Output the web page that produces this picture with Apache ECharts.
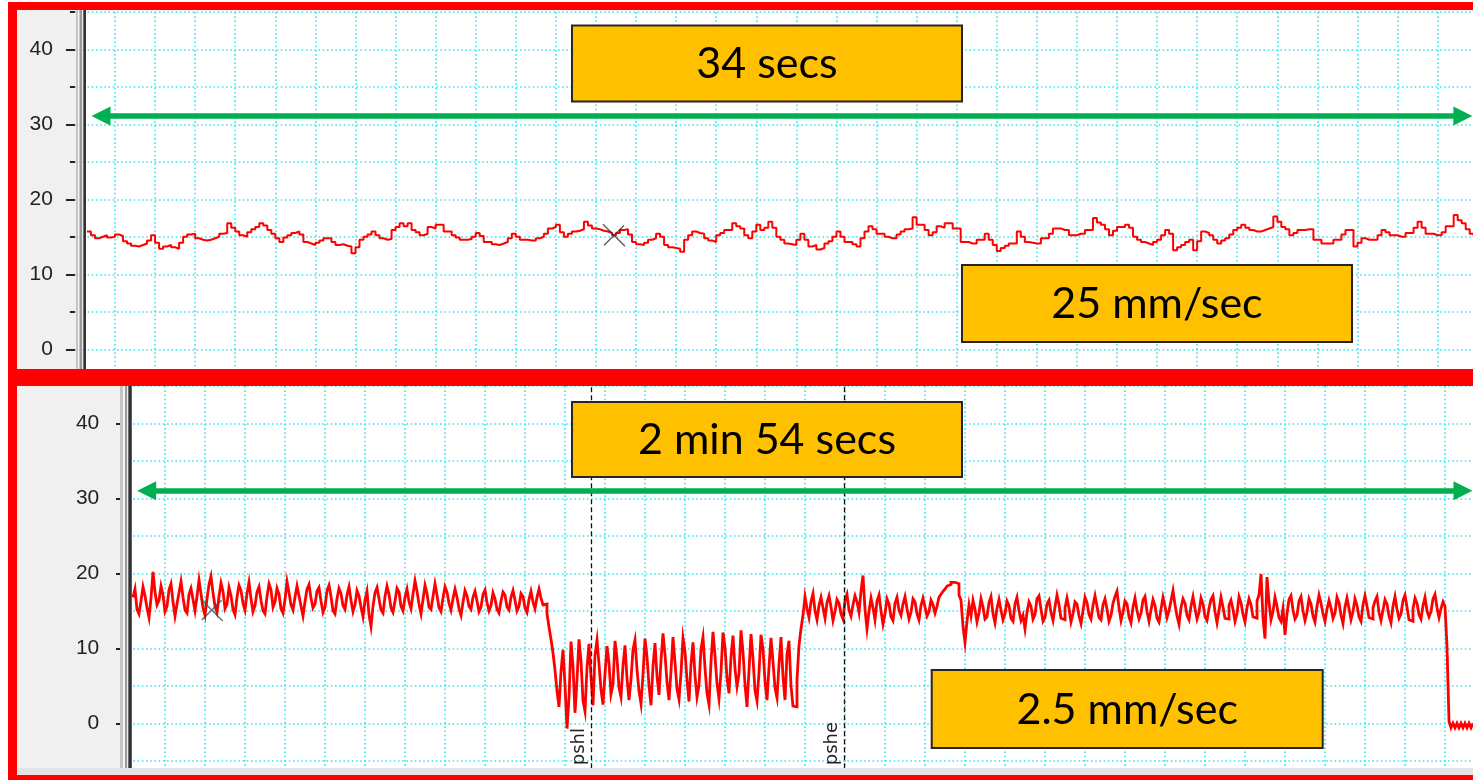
<!DOCTYPE html>
<html>
<head>
<meta charset="utf-8">
<title>Pressure trace at two recording speeds</title>
<script src="https://cdn.jsdelivr.net/npm/echarts@6/dist/echarts.min.js"></script>
<style>
  html, body { margin: 0; padding: 0; background: #fff; }
  #wrap { position: relative; width: 1473px; height: 780px; overflow: hidden; }
  .clip { position: absolute; left: 0; width: 1473px; overflow: hidden; }
  #upperClip { top: 0; height: 378px; }
  #lowerClip { top: 378px; height: 402px; }
  .canvas { position: absolute; left: 0; top: -40px; width: 1520px; }
  #upper { height: 480px; }
  #lower { height: 500px; }
</style>
</head>
<body>
<div id="wrap">
  <div class="clip" id="upperClip"><div class="canvas" id="upper"></div></div>
  <div class="clip" id="lowerClip"><div class="canvas" id="lower"></div></div>
</div>
<script>
// ---------------- data ----------------
// labelled pressure ticks on both panels
const yLabels = [0, 10, 20, 30, 40];

// fast recording (25 mm/sec): one sample every 0.1 s starting at 0.3 s
const fastStart = 0.3;
const fastStep = 0.1;
const fastTrace = [
  15.7,15.2,14.8,15.0,15.2,14.9,15.0,15.3,15.1,14.4,
  14.1,13.8,13.7,13.9,14.1,14.5,15.2,14.2,13.4,13.7,
  13.9,13.6,13.4,14.2,15.0,15.3,15.4,14.8,14.6,14.5,
  14.6,14.8,15.0,15.4,15.5,16.8,16.2,15.7,15.2,15.0,
  15.6,16.0,16.3,16.8,16.5,15.9,15.4,14.8,14.3,14.9,
  15.2,15.5,15.7,15.3,14.3,14.1,13.9,14.2,14.5,14.8,
  14.8,14.3,13.9,14.0,13.8,13.7,12.8,13.6,14.6,15.0,
  15.3,15.7,15.2,14.8,14.6,14.7,15.9,16.3,16.8,16.4,
  16.8,15.9,15.6,15.2,15.4,16.3,16.1,16.6,16.6,15.7,
  15.7,15.2,14.9,14.6,14.6,14.7,15.0,15.5,15.1,14.3,
  14.3,14.0,13.9,14.1,14.3,14.8,15.4,15.0,14.6,14.6,
  14.5,14.5,14.8,15.0,15.4,16.1,16.3,16.6,15.6,15.0,
  15.4,15.7,15.8,16.0,17.0,16.5,16.1,16.0,15.8,15.7,
  15.5,15.2,15.5,15.9,16.0,15.3,14.3,14.0,13.9,14.2,
  14.6,14.8,15.4,15.0,13.9,13.6,13.5,13.4,13.0,14.6,
  15.2,15.7,15.5,15.4,14.8,14.5,14.3,15.2,15.5,15.9,
  15.9,16.8,16.4,16.1,15.2,14.8,15.7,16.6,15.9,16.2,
  17.0,16.2,15.0,14.6,14.1,14.0,13.9,14.6,15.4,14.6,
  13.7,13.9,13.3,13.5,14.1,14.4,15.0,15.7,15.0,14.3,
  14.3,14.0,13.7,14.8,15.7,16.4,16.0,15.4,15.4,15.0,
  14.8,14.8,15.3,15.7,16.0,16.1,17.6,16.6,16.6,15.9,
  15.2,15.6,16.4,16.2,16.8,16.8,16.1,16.1,14.3,14.3,
  14.1,14.1,14.6,14.6,15.4,14.6,13.9,13.1,13.5,13.8,
  14.1,14.1,15.7,15.0,14.3,14.2,14.1,14.1,14.8,14.8,
  15.4,16.1,16.1,15.9,15.9,15.2,15.2,15.4,15.4,15.9,
  15.9,17.5,16.9,16.6,16.0,15.2,15.8,16.3,16.3,16.6,
  16.2,15.0,14.6,14.3,14.1,13.9,14.3,14.6,15.2,15.9,
  15.4,13.2,13.6,13.9,14.3,14.6,13.2,14.4,15.7,15.5,
  15.2,14.6,14.1,14.5,14.8,15.3,15.9,16.2,16.6,16.2,
  15.9,15.7,15.7,15.9,16.1,16.3,17.7,17.0,16.3,16.0,
  15.2,15.5,15.9,15.9,16.0,16.0,14.6,14.6,14.1,14.1,
  14.1,14.6,14.6,15.3,15.9,15.9,13.7,14.2,14.8,14.6,
  14.6,14.6,15.2,15.9,15.6,15.2,15.2,15.0,15.0,15.5,
  15.5,16.2,17.0,16.2,15.4,15.4,15.2,15.2,15.6,16.4,
  16.4,17.9,17.2,16.8,16.0,15.4,15.0
];

// slow recording (2.5 mm/sec): one sample every 0.25 s starting at 1 s
const slowStart = 1.0;
const slowStep = 0.25;
const slowTrace = [
  // resting pressure before the manoeuvre
  16.8,17.9,15.2,14.6,16.3,18.2,17.0,15.4,14.1,16.7,
  20.2,17.5,15.8,16.4,18.3,17.1,14.9,15.6,17.8,18.6,
  16.2,14.3,15.9,17.4,18.9,16.8,15.1,14.7,17.2,18.0,
  16.5,15.0,16.9,19.1,17.3,15.4,14.4,16.6,18.5,19.6,
  17.4,15.6,14.8,16.9,18.7,17.6,15.3,15.9,18.1,17.0,
  15.2,14.5,16.8,18.4,17.7,16.0,15.1,17.3,18.8,16.6,
  14.9,15.7,17.5,18.2,16.4,15.0,14.6,16.9,18.6,17.8,
  15.5,16.2,18.0,17.2,15.3,14.7,16.5,18.9,17.4,15.8,
  15.1,16.8,18.3,17.0,15.6,14.3,16.2,17.9,18.5,16.7,
  15.4,15.9,17.6,18.1,16.3,14.8,15.5,17.7,18.4,16.9,
  15.0,14.6,16.6,18.0,17.3,15.7,15.2,17.1,18.2,16.4,
  14.9,15.8,17.7,17.0,15.5,14.2,16.4,17.6,14.5,12.9,
  15.6,17.4,18.1,16.6,15.1,14.7,16.9,18.3,17.2,15.4,
  14.8,16.3,18.0,17.5,15.6,15.0,16.8,17.9,16.2,15.3,
  17.2,19.0,17.6,15.9,14.6,16.5,18.4,17.3,15.5,15.2,
  16.9,18.6,17.1,15.4,14.9,16.7,18.2,17.5,16.0,15.1,
  16.6,17.9,16.8,15.3,14.4,16.1,17.7,17.0,15.6,15.2,
  16.8,17.6,16.3,14.9,15.5,17.2,17.8,16.1,15.0,15.7,
  17.4,16.6,15.2,14.7,16.3,17.5,17.1,15.5,15.1,16.8,
  17.7,16.4,15.0,15.6,17.3,16.9,15.4,14.8,16.5,17.6,
  16.2,15.3,16.8,17.9,16.7,15.8,
  // drop at pressure hold
  15.9,14.6,12.8,11.2,9.4,7.1,
  // low, unstable phase
  4.3,2.2,6.9,9.8,5.1,-0.7,3.4,10.9,7.6,1.4,
  5.8,11.2,8.3,3.0,1.6,7.4,10.6,6.2,2.4,9.1,
  11.1,7.9,4.5,2.5,6.6,10.3,8.0,3.9,5.2,11.0,
  8.7,4.8,3.5,7.7,10.4,6.0,3.1,5.9,9.8,11.1,
  7.2,4.3,2.6,6.5,11.3,8.9,5.0,2.4,7.6,10.7,
  6.3,3.8,8.4,12.0,9.2,5.5,3.1,7.0,11.5,8.1,
  4.6,3.2,6.7,11.4,9.6,5.8,2.9,7.9,10.8,6.4,
  3.5,5.1,9.9,11.5,7.4,4.0,2.5,8.2,12.2,9.0,
  5.3,3.3,6.9,12.1,10.1,6.0,4.0,8.8,11.7,7.3,
  4.9,6.6,12.4,9.5,5.2,2.2,7.1,11.9,8.6,4.4,
  3.0,6.8,11.8,9.9,5.6,3.1,7.5,11.4,8.2,4.7,
  3.4,7.9,11.5,6.2,3.1,9.2,11.0,5.0,2.3,2.2,
  5.8,10.4,
  // recovery
  12.6,14.4,16.9,15.3,14.1,16.2,17.3,15.0,13.8,15.7,
  16.8,15.4,14.0,16.1,17.0,15.5,13.7,14.9,16.5,16.0,
  14.6,13.9,16.4,17.2,15.1,14.3,15.8,17.0,16.2,14.8,
  17.6,19.7,15.2,12.6,14.9,16.7,15.4,13.8,16.3,17.1,
  15.0,13.2,14.6,16.6,15.9,14.2,13.7,16.0,16.8,15.1,
  14.4,15.9,16.9,15.3,13.9,14.8,16.6,16.2,14.6,13.8,
  15.7,16.7,15.5,14.3,14.9,16.4,15.8,14.7,15.6,16.8,
  17.2,17.6,17.9,18.3,18.5,18.8,18.8,18.7,18.6,
  // steady phase
  17.1,16.4,12.9,10.8,13.6,15.8,14.3,16.4,15.2,13.5,
  14.7,16.6,15.5,13.9,14.2,16.1,16.9,14.6,13.4,15.3,
  16.5,15.1,13.8,14.6,16.3,15.7,14.0,13.6,15.9,16.8,
  15.0,13.7,14.4,12.6,14.8,16.2,15.6,13.9,14.5,16.6,
  17.0,15.2,13.6,14.1,15.9,16.4,14.8,13.7,15.5,17.1,
  15.8,14.0,13.8,15.4,16.7,15.3,13.5,14.6,16.2,15.9,
  14.3,13.3,15.0,16.8,16.1,14.5,13.9,15.7,17.0,15.6,
  14.1,13.8,15.8,16.6,15.2,13.6,14.4,16.0,16.9,17.6,
  15.4,13.7,14.8,16.3,15.9,14.2,13.4,15.5,16.7,15.0,
  13.9,14.7,16.4,16.9,14.9,13.6,15.1,16.5,15.7,14.0,
  13.5,15.2,16.8,15.6,14.1,15.0,16.3,17.7,15.8,14.3,
  13.2,15.4,16.6,16.0,14.4,13.8,15.6,16.9,15.3,13.9,
  14.8,16.7,15.9,14.2,13.7,15.3,16.5,17.0,14.9,13.4,
  15.0,16.8,15.5,14.0,13.9,15.7,16.4,15.2,13.6,14.6,
  16.9,16.1,14.5,13.5,15.4,16.6,15.8,14.2,14.0,16.3,
  17.1,19.9,14.0,11.3,19.5,16.2,13.8,14.9,16.8,15.6,
  14.1,13.6,15.3,11.8,14.6,16.5,17.0,15.1,13.9,14.4,
  16.3,16.9,15.0,13.7,14.8,16.6,15.9,14.3,13.5,15.6,
  17.1,16.0,14.6,13.6,15.2,16.4,15.4,14.0,14.7,16.8,
  16.1,14.4,13.3,15.5,16.7,15.3,13.8,14.9,16.6,15.7,
  14.2,13.6,15.8,17.0,15.6,14.1,13.9,15.4,16.3,16.9,
  14.8,13.7,15.1,16.5,15.9,14.3,13.4,15.6,16.9,15.2,
  14.0,14.6,16.4,17.1,15.5,13.8,13.6,15.3,16.7,16.0,
  14.5,13.9,15.7,16.8,15.0,14.2,14.9,16.6,17.2,15.4,
  14.1,15.3,16.2,15.6,
  // release
  10.2,0.3,-0.6,0.0,-0.6,0.0,-0.6,0.0,-0.6,0.0,
  -0.6,0.0,-0.6,0.0
];

// event markers on the slow recording (seconds)
const slowEvents = [
  { name: 'pshl', t: 58.25 },
  { name: 'pshe', t: 89.9 }
];

// cursor crosses [seconds, value]
const fastCursor = [13.45, 15.2];
const slowCursor = [10.84, 15.1];

// duration arrows [from s, to s, level]
const fastSpan = [0.65, 34.63, 31.1];
const slowSpan = [2.71, 167.25, 31.0];

// ---------------- styling helpers ----------------
const RED = '#ff0000';
const GRID_CYAN = '#38e4ee';
const ARROW_GREEN = '#00b050';
const BOX_FILL = '#ffc000';
const SHIFT = 40; // each chart canvas sits 40px above its clipping panel
const dotted = { color: GRID_CYAN, width: 1.6, type: [1.6, 2.6] };

function toXY(start, step, values) {
  return values.map((v, i) => [+(start + i * step).toFixed(3), v]);
}

function valueAxis(offset) {
  return {
    type: 'value', min: -10, max: 50, interval: 10, offset: offset,
    axisLine: { show: false },
    axisTick: { show: true, length: 9, lineStyle: { color: '#222', width: 2 } },
    minorTick: { show: true, splitNumber: 2, length: 5, lineStyle: { color: '#222', width: 2 } },
    axisLabel: {
      margin: 19, fontSize: 21, fontFamily: 'Liberation Sans', color: '#222',
      formatter: v => (yLabels.indexOf(v) >= 0 ? String(v) : '')
    },
    splitLine: { show: true, lineStyle: dotted },
    minorSplitLine: { show: true, lineStyle: dotted }
  };
}

function timeAxis(max, interval) {
  return {
    type: 'value', min: 0, max: max, interval: interval,
    axisLine: { show: false }, axisTick: { show: false }, axisLabel: { show: false },
    splitLine: { show: true, showMinLine: false, showMaxLine: false, lineStyle: dotted }
  };
}

function spanArrow(span) {
  return {
    type: 'line', data: [], silent: true,
    markLine: {
      silent: true, animation: false,
      symbol: ['triangle', 'triangle'], symbolSize: 19,
      label: { show: false },
      lineStyle: { color: ARROW_GREEN, width: 5.5, type: 'solid' },
      emphasis: { disabled: true },
      data: [[{ coord: [span[0], span[2]] }, { coord: [span[1], span[2]] }]]
    }
  };
}

function cursorCross(pt, color) {
  return {
    type: 'scatter', data: [pt], silent: true, z: 4,
    symbol: 'path://M0,0L20,20M19,1L1,19', symbolSize: 22,
    itemStyle: { color: 'rgba(0,0,0,0)', borderColor: color, borderWidth: 1.4 }
  };
}

// panel-space rectangle (y measured from the top of the visible panel)
function rect(x, y, w, h, fill, z) {
  return { type: 'rect', z: z, silent: true,
    shape: { x: x, y: y + SHIFT, width: w, height: h }, style: { fill: fill } };
}

function box(x, y, w, h, text) {
  return [
    { type: 'rect', z: 110, silent: true, shape: { x: x, y: y + SHIFT, width: w, height: h },
      style: { fill: BOX_FILL, stroke: '#262626', lineWidth: 2 } },
    { type: 'text', z: 111, silent: true, style: { text: text, x: x + w / 2, y: y + SHIFT + h / 2 + 1,
      align: 'center', verticalAlign: 'middle', font: '43px Lato', fill: '#000' } }
  ];
}

// ---------------- upper panel: 25 mm/sec ----------------
const upper = echarts.init(document.getElementById('upper'));
upper.setOption({
  animation: false,
  grid: { left: 74.92, top: -25.7 + SHIFT, width: 1402.8, height: 450 },
  xAxis: timeAxis(35, 1),
  yAxis: valueAxis(3),
  series: [
    {
      type: 'line', data: toXY(fastStart, fastStep, fastTrace), step: 'end',
      symbol: 'none', silent: true, z: 3,
      lineStyle: { color: RED, width: 2 }
    },
    spanArrow(fastSpan),
    cursorCross(fastCursor, '#333')
  ],
  graphic: [
    rect(17, 10, 59, 359, '#f0f0f0', -10),
    rect(76, 10, 2, 359, '#c4c4c4', 100),
    rect(78, 10, 1.5, 359, '#f4f4f4', 100),
    rect(79.5, 10, 2.5, 359, '#9a9a9a', 100),
    rect(82, 10, 1.3, 359, '#ececec', 100),
    rect(83.3, 10, 2.7, 359, '#333333', 100),
    rect(8, -SHIFT, 1520, SHIFT + 10, '#ffffff', 104),
    rect(8, 2, 1520, 8, RED, 105),
    rect(8, 2, 9, 376, RED, 105),
    rect(8, 369, 1520, 9, RED, 105)
  ].concat(box(572, 25.5, 390, 76, '34 secs'), box(962, 265, 390, 77, '25 mm/sec'))
});

// ---------------- lower panel: 2.5 mm/sec ----------------
const lower = echarts.init(document.getElementById('lower'));
lower.setOption({
  animation: false,
  grid: { left: 125, top: -29.7 + SHIFT, width: 1360, height: 450 },
  xAxis: timeAxis(170, 5),
  yAxis: valueAxis(6.7),
  series: [
    {
      type: 'line', data: toXY(slowStart, slowStep, slowTrace), step: 'end',
      symbol: 'none', silent: true, z: 3, sampling: false,
      lineStyle: { color: RED, width: 2.8, join: 'miter' },
      markLine: {
        silent: true, animation: false, symbol: ['none', 'none'],
        lineStyle: { color: '#111', width: 1.3, type: [5, 3] },
        label: {
          show: true, position: 'insideStartTop', distance: 3,
          formatter: '{b}', fontFamily: 'DejaVu Sans', fontSize: 18, color: '#222'
        },
        emphasis: { disabled: true },
        data: slowEvents.map(e => [
          { name: e.name, coord: [e.t, -6] },
          { coord: [e.t, 45] }
        ])
      }
    },
    spanArrow(slowSpan),
    cursorCross(slowCursor, '#2f4f55')
  ],
  graphic: [
    rect(17, 8, 103, 382, '#f0f0f0', -10),
    rect(120, 8, 3, 382, '#c4c4c4', 100),
    rect(123, 8, 2, 382, '#f4f4f4', 100),
    rect(125, 8, 2, 382, '#9a9a9a', 100),
    rect(127, 8, 1.3, 382, '#ececec', 100),
    rect(128.3, 8, 3.5, 382, '#333333', 100),
    rect(17, 390, 1520, 7, '#e4e4e4', 104),
    rect(8, -SHIFT, 1520, SHIFT + 8, RED, 105),
    rect(8, 0, 9, 402, RED, 105),
    rect(8, 397, 1520, 60, RED, 105)
  ].concat(box(572, 24, 390, 75, '2 min 54 secs'), box(931.7, 292, 391, 78, '2.5 mm/sec'))
});
</script>
</body>
</html>
